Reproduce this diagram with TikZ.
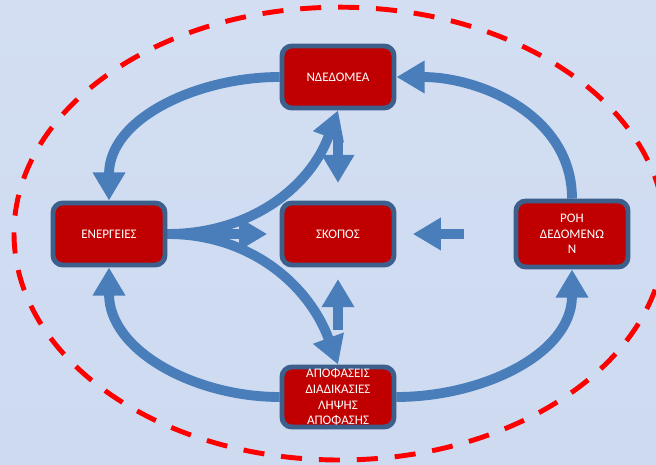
\documentclass[tikz,border=0pt]{standalone}
\usepackage{fontspec}
\setmainfont{Carlito}
\usetikzlibrary{arrows.meta,backgrounds}
\definecolor{boxred}{RGB}{192,0,0}
\definecolor{boxedge}{RGB}{60,95,140}
\definecolor{flowblue}{RGB}{74,126,187}
\definecolor{bgtop}{RGB}{211,222,242}
\definecolor{bgmid}{RGB}{197,212,237}
\definecolor{bgbottom}{RGB}{205,218,240}
\tikzstyle{box} = [draw=boxedge,fill=boxred,line width=3.5pt,rounded corners=7pt,text=white,align=center,minimum width=2.8cm,minimum height=1.55cm,inner sep=1pt,font=\fontsize{9.3}{11.1}\selectfont]
\tikzstyle{flow} = [draw=flowblue,line width=7pt,-{Triangle[width=22pt,length=20pt]}]

\begin{document}
\begin{tikzpicture}
\useasboundingbox (0,0) rectangle (16.4,11.6);

\node[box] (ndedomena) at (8.45,9.675) {ΝΔΕΔΟΜΕΑ};
\node[box] (energeies) at (2.725,5.75) {ΕΝΕΡΓΕΙΕΣ};
\node[box] (skopos) at (8.45,5.75) {ΣΚΟΠΟΣ};
\node[box,minimum height=1.65cm] (roi) at (14.3,5.75) {ΡΟΗ\\ΔΕΔΟΜΕΝΩ\\Ν};
\node[box,minimum height=1.5cm] (apofaseis) at (8.45,1.675) {ΑΠΟΦΑΣΕΙΣ\\ΔΙΑΔΙΚΑΣΙΕΣ\\ΛΗΨΗΣ\\ΑΠΟΦΑΣΗΣ};

\begin{scope}[on background layer]
\shade[top color=bgtop,middle color=bgmid,bottom color=bgbottom] (0,0) rectangle (16.4,11.6);
\draw[red,line width=3.5pt,dash pattern=on 15pt off 12pt] (8.49,5.76) ellipse (8.14 and 5.66);

% outer ring
\draw[flow] (ndedomena.west) to[out=180,in=90] (energeies.north); % N-E
\draw[flow] (roi.north) to[out=90,in=0] (ndedomena.east); % R-N
\draw[flow] (apofaseis.east) to[out=0,in=-90] (roi.south); % A-R
\draw[flow] (apofaseis.west) to[out=180,in=-90] (energeies.south); % A-E

% from energeies
\draw[flow] (energeies.east) to[out=0,in=-110] (ndedomena.south); % E-N
\draw[flow] (energeies.east) to[out=0,in=110] (apofaseis.north); % E-A
\draw[flow,shorten >=0.31cm] (energeies) -- (skopos); % E-S

% into skopos
\draw[flow,shorten <=1.24cm,shorten >=0.41cm] (roi) -- (skopos); % R-S
\draw[flow,shorten <=0.69cm,shorten >=0.44cm] (ndedomena) -- (skopos); % N-S
\draw[flow,shorten <=0.86cm,shorten >=0.29cm] (apofaseis) -- (skopos); % A-S
\end{scope}

\end{tikzpicture}
\end{document}
